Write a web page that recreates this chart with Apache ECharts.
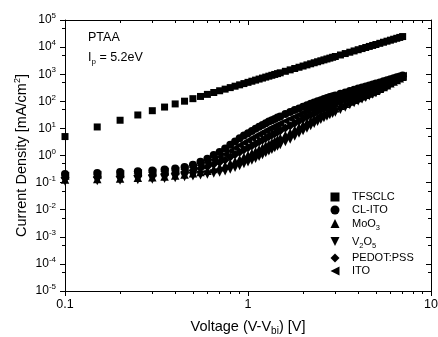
<!DOCTYPE html>
<html><head><meta charset="utf-8">
<script src="https://cdn.jsdelivr.net/npm/echarts@6/dist/echarts.min.js"></script>
<style>html,body{margin:0;padding:0;background:#fff}#c{width:438px;height:337px}</style>
</head><body><div id="c"></div>
<script>
// ---- data ----
const voltage = [0.1,0.15,0.2,0.25,0.3,0.35,0.4,0.45,0.5,0.55,0.6,0.65,0.7,0.75,0.8,0.85,0.9,0.95,1.0,
  1.05,1.1,1.15,1.2,1.25,1.3,1.35,1.4,1.45,1.5,
  1.6,1.7,1.8,1.9,2.0,2.1,2.2,2.3,2.4,2.5,2.6,2.7,2.8,2.9,3.0,
  3.2,3.4,3.6,3.8,4.0,4.2,4.4,4.6,4.8,5.0,
  5.25,5.5,5.75,6.0,6.25,6.5,6.75,7.0];
const tfsclc = [5,11.3,20,31.3,45,61.3,80,101,125,151,180,211,245,281,320,361,405,451,500,551,
  605,661,720,781,845,911,980,1051,1125,1280,1445,1620,1805,2000,2205,2420,2645,2880,3125,3380,
  3645,3920,4205,4500,5120,5780,6480,7220,8000,8820,9680,10580,11520,12500,13780,15130,16530,18000,19530,21130,
  22780,24500];
const clIto = [0.208,0.226,0.246,0.264,0.279,0.307,0.331,0.379,0.454,0.586,0.762,1.035,1.36,1.81,2.48,3.29,4.31,5.42,6.65,8.09,
  9.75,11.5,13.3,15.4,17.8,20.1,22.4,25.1,27.7,33.7,40.6,47.3,54.7,62.7,71.8,80.9,90.3,100,110,121,
  131,143,154,165,188,213,238,266,294,323,355,386,417,454,498,547,596,654,706,769,830,888];
const ito = [0.177,0.191,0.205,0.219,0.230,0.252,0.270,0.306,0.356,0.439,0.543,0.699,0.877,1.11,1.47,1.89,2.39,2.96,3.59,4.32,
  5.15,6.07,7.04,8.18,9.45,10.7,12.1,13.6,15.1,18.7,22.7,27.1,32.0,37.6,43.9,50.4,57.3,64.7,72.5,80.8,
  88.4,97.5,106,115,134,155,177,201,225,251,279,308,337,371,416,467,518,585,643,714,785,856];
const pedot = [0.151,0.161,0.171,0.182,0.190,0.207,0.221,0.247,0.280,0.329,0.387,0.472,0.566,0.686,0.873,1.08,1.32,1.62,1.94,2.31,
  2.72,3.21,3.72,4.34,5.02,5.73,6.47,7.35,8.25,10.3,12.6,15.5,18.7,22.5,26.8,31.4,36.3,41.9,47.7,54.0,
  59.7,66.5,73.1,80.2,95.5,113,131,151,172,195,220,245,273,303,347,398,450,523,586,662,743,825];
const moo3 = [0.129,0.136,0.143,0.152,0.157,0.169,0.181,0.200,0.219,0.247,0.276,0.319,0.366,0.424,0.518,0.620,0.733,0.883,1.05,1.23,
  1.44,1.70,1.98,2.32,2.67,3.07,3.49,3.97,4.51,5.74,7.04,8.86,11.0,13.5,16.4,19.6,23.2,27.0,31.6,35.9,
  40.4,45.5,50.7,55.8,68.0,82.0,97.4,114,132,152,173,196,220,247,290,339,391,466,533,614,703,798];
const v2o5 = [0.110,0.115,0.119,0.126,0.130,0.139,0.148,0.161,0.172,0.185,0.197,0.215,0.236,0.261,0.307,0.355,0.406,0.482,0.566,0.659,
  0.762,0.895,1.05,1.23,1.42,1.64,1.88,2.15,2.46,3.18,3.93,5.07,6.43,8.09,10.0,12.2,14.7,17.5,20.8,24.0,
  27.3,31.0,34.9,38.9,48.5,59.6,72.4,85.9,101,118,136,156,178,202,242,289,340,417,486,570,665,769];

const seriesNames = ['TFSCLC','CL-ITO','MoO3','V2O5','PEDOT:PSS','ITO'];
const xMajorTicks = [0.1, 1, 10];
const xMinorTicks = [0.2,0.3,0.4,0.5,0.6,0.7,0.8,0.9,2,3,4,5,6,7,8,9];
const yMajorTicks = [1e-5,1e-4,1e-3,1e-2,1e-1,1,10,100,1000,1e4,1e5];
const yMinorTicks = [5e-5,5e-4,5e-3,5e-2,0.5,5,50,500,5000,5e4];

// ---- chart ----
const FONT = '"Liberation Sans", Arial, sans-serif';
const chart = echarts.init(document.getElementById('c'), null, {renderer: 'canvas'});
const black = '#000';

function xAx(pos, ticks, len, inside, line, label) {
  return {
    type: 'log', logBase: 10, min: 0.1, max: 10, position: pos,
    axisLine: {show: line, lineStyle: {color: black, width: 1}},
    axisTick: {show: true, inside: inside, length: len, customValues: ticks, lineStyle: {color: black, width: 1}},
    axisLabel: {show: label, customValues: ticks, margin: 7, color: black, fontFamily: FONT, fontSize: 12.5,
      formatter: v => (Math.abs(v - 0.1) < 1e-9 ? '0.1' : String(Math.round(v)))},
    splitLine: {show: false}, minorTick: {show: false}
  };
}
function yAx(pos, ticks, len, inside, line, label) {
  return {
    type: 'log', logBase: 10, min: 1e-5, max: 1e5, position: pos,
    axisLine: {show: line, lineStyle: {color: black, width: 1}},
    axisTick: {show: true, inside: inside, length: len, customValues: ticks, lineStyle: {color: black, width: 1}},
    axisLabel: {show: label, customValues: ticks, margin: 9, color: black, fontFamily: FONT, fontSize: 12, lineHeight: 16,
      formatter: v => '10{sup|' + Math.round(Math.log10(v)) + '}',
      rich: {sup: {fontSize: 8, fontFamily: FONT, color: black, verticalAlign: 'top', lineHeight: 8}}},
    splitLine: {show: false}, minorTick: {show: false}
  };
}

const xAxes = [
  Object.assign(xAx('bottom', xMajorTicks, 5, false, true, true), {
    name: 'Voltage (V-V{sub|bi}) [V]', nameLocation: 'middle', nameGap: 27, nameMoveOverlap: false,
    nameTextStyle: {fontFamily: FONT, fontSize: 14.5, color: black, lineHeight: 18,
      rich: {sub: {fontFamily: FONT, fontSize: 10, color: black, verticalAlign: 'bottom', lineHeight: 10}}}
  }),
  xAx('bottom', xMinorTicks, 3, false, false, false),
  xAx('top', xMajorTicks, 5, true, true, false),
  xAx('top', xMinorTicks, 3, true, false, false)
];
const yAxes = [
  Object.assign(yAx('left', yMajorTicks, 5, false, true, true), {
    name: 'Current Density [mA/cm{sup|2}]', nameLocation: 'middle', nameGap: 34, nameMoveOverlap: false,
    nameTextStyle: {fontFamily: FONT, fontSize: 14.5, color: black, lineHeight: 18,
      rich: {sup: {fontFamily: FONT, fontSize: 9, color: black, verticalAlign: 'top', lineHeight: 9}}}
  }),
  yAx('left', yMinorTicks, 3, false, false, false),
  yAx('right', yMajorTicks, 5, true, true, false),
  yAx('right', yMinorTicks, 3, true, false, false)
];

const symbols = ['rect', 'circle', 'triangle', 'path://M0,0L10,0L5,10Z', 'diamond', 'path://M0,5L10,0L10,10Z'];
const sizes = [7, 8, 8.5, 8.5, 9, 8.5];
const values = [tfsclc, clIto, moo3, v2o5, pedot, ito];

const series = seriesNames.map((n, i) => ({
  name: n, type: 'scatter', xAxisIndex: 0, yAxisIndex: 0,
  symbol: symbols[i], symbolSize: sizes[i], symbolKeepAspect: true,
  itemStyle: {color: black, opacity: 1},
  emphasis: {disabled: true},
  clip: true,
  data: voltage.map((v, k) => [v, values[i][k]])
}));

const legendTops = [189, 202, 215.5, 233.5, 250, 263];
const legendFmt = name => name === 'MoO3' ? 'MoO{sub|3}' : (name === 'V2O5' ? 'V{sub|2}O{sub|5}' : name);
const legends = seriesNames.map((n, i) => ({
  data: [n], left: 330.5, top: legendTops[i], orient: 'vertical', padding: 0, itemGap: 0,
  itemWidth: 9, itemHeight: 9, selectedMode: false,
  formatter: legendFmt,
  textStyle: {fontFamily: FONT, fontSize: 11, color: black, lineHeight: 16, padding: [0, 0, 0, 7.5],
    rich: {sub: {fontFamily: FONT, fontSize: 7.5, color: black, verticalAlign: 'bottom', lineHeight: 9}}}
}));

chart.setOption({
  animation: false,
  backgroundColor: '#fff',
  grid: {left: 65, right: 7, top: 20, bottom: 46, containLabel: false, outerBoundsMode: 'none'},
  xAxis: xAxes,
  yAxis: yAxes,
  legend: legends,
  series: series,
  graphic: [
    {type: 'text', left: 88, top: 31, silent: true,
     style: {text: 'PTAA', fontFamily: FONT, fontSize: 12.5, fill: black}},
    {type: 'text', left: 88, top: 50, silent: true,
     style: {text: 'I{sub|p} = 5.2eV', fontFamily: FONT, fontSize: 12.5, fill: black, lineHeight: 16,
       rich: {sub: {fontFamily: FONT, fontSize: 8, fill: black, verticalAlign: 'bottom', lineHeight: 8}}}}
  ]
});
</script>
</body></html>
